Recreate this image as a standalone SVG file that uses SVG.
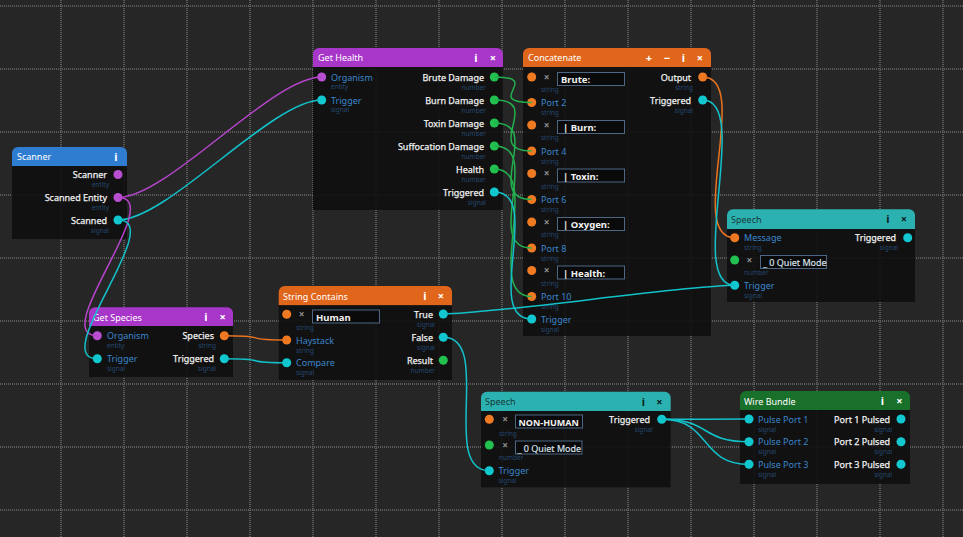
<svg xmlns="http://www.w3.org/2000/svg" width="963" height="537" viewBox="0 0 963 537">
<defs>
<style>
text{font-family:"Noto Sans","Open Sans","DejaVu Sans",sans-serif}
.grid line{stroke:#5a5a5a;stroke-width:2;stroke-dasharray:1 1}
.body{fill:#101010;fill-opacity:0.9}
.ttl{font-size:9px;fill:#ffffff}
.ttl.dk{fill:#173838}
.ic{font-size:11px;font-weight:bold;fill:#ffffff;text-anchor:middle}
.ic.dk{fill:#0c2222}
.out{font-size:9px;fill:#f0f0f0;stroke:#f0f0f0;stroke-width:0.25;text-anchor:end}
.in{font-size:9px;fill:#3a86cc}
.sub{font-size:6.5px;fill:#25476f}
.subr{font-size:6.5px;fill:#25476f;text-anchor:end}
.fld{fill:#0a0a0a;stroke:#4d6784;stroke-width:1}
.ft{font-size:9.5px;font-weight:bold;fill:#f2f2f2}
.ft.s{font-size:9px}
.fq{font-size:9px;fill:#dde6f0;stroke:#dde6f0;stroke-width:0.15}
.x{font-size:10px;font-weight:bold;fill:#8e8e8e;text-anchor:middle}
.pp{fill:#b84fd0}.pc{fill:#12c8d0}.pg{fill:#22c04f}.po{fill:#f07a22}
.w{fill:none;stroke-width:1.5}
.wp{stroke:#b645cc}.wc{stroke:#12c2cb}.wg{stroke:#22b04e}.wo{stroke:#e8731f}
</style>
</defs>
<rect width="963" height="537" fill="#262626"/>
<g class="grid">
<line x1="61" y1="0" x2="61" y2="537"/><line x1="124" y1="0" x2="124" y2="537"/><line x1="187" y1="0" x2="187" y2="537"/><line x1="250" y1="0" x2="250" y2="537"/><line x1="313" y1="0" x2="313" y2="537"/><line x1="376" y1="0" x2="376" y2="537"/><line x1="439" y1="0" x2="439" y2="537"/><line x1="502" y1="0" x2="502" y2="537"/><line x1="565" y1="0" x2="565" y2="537"/><line x1="628" y1="0" x2="628" y2="537"/><line x1="691" y1="0" x2="691" y2="537"/><line x1="754" y1="0" x2="754" y2="537"/><line x1="817" y1="0" x2="817" y2="537"/><line x1="880" y1="0" x2="880" y2="537"/><line x1="943" y1="0" x2="943" y2="537"/>
<line x1="0" y1="6" x2="963" y2="6"/><line x1="0" y1="69" x2="963" y2="69"/><line x1="0" y1="132" x2="963" y2="132"/><line x1="0" y1="195" x2="963" y2="195"/><line x1="0" y1="258" x2="963" y2="258"/><line x1="0" y1="321" x2="963" y2="321"/><line x1="0" y1="384" x2="963" y2="384"/><line x1="0" y1="447" x2="963" y2="447"/><line x1="0" y1="510" x2="963" y2="510"/>
</g>

<g id="node-scanner">
<path d="M12 166V153a6 6 0 0 1 6-6H121a6 6 0 0 1 6 6V166Z" fill="#2f7dd0"/>
<rect class="body" x="12" y="166" width="115" height="73"/>
<text class="ttl" x="17" y="160">Scanner</text>
<text class="ic" x="116" y="160.5">i</text>
<circle class="pp" cx="118" cy="174.5" r="4.5"/><text class="out" x="107" y="178">Scanner</text><text class="subr" x="109" y="186.5">entity</text>
<circle class="pp" cx="118" cy="197.5" r="4.5"/><text class="out" x="107" y="201">Scanned Entity</text><text class="subr" x="109" y="209.5">entity</text>
<circle class="pc" cx="118" cy="220" r="4.5"/><text class="out" x="107" y="223.5">Scanned</text><text class="subr" x="109" y="232.5">signal</text>
</g>

<g id="node-get-health">
<path d="M313 67V54a6 6 0 0 1 6-6H497a6 6 0 0 1 6 6V67Z" fill="#a736c9"/>
<rect class="body" x="313" y="67" width="190" height="143"/>
<text class="ttl" x="318" y="61">Get Health</text>
<text class="ic" x="476" y="61.5">i</text><text class="ic" x="493" y="61.5">×</text>
<circle class="pp" cx="321.7" cy="77" r="4.5"/><text class="in" x="331" y="80.5">Organism</text><text class="sub" x="331" y="89">entity</text>
<circle class="pc" cx="321.7" cy="100" r="4.5"/><text class="in" x="331" y="103.5">Trigger</text><text class="sub" x="331" y="112">signal</text>
<circle class="pg" cx="494.3" cy="77" r="4.5"/><text class="out" x="484" y="80.5">Brute Damage</text><text class="subr" x="486" y="89.5">number</text>
<circle class="pg" cx="494.3" cy="100" r="4.5"/><text class="out" x="484" y="103.5">Burn Damage</text><text class="subr" x="486" y="112.5">number</text>
<circle class="pg" cx="494.3" cy="123" r="4.5"/><text class="out" x="484" y="126.5">Toxin Damage</text><text class="subr" x="486" y="135.5">number</text>
<circle class="pg" cx="494.3" cy="146" r="4.5"/><text class="out" x="484" y="149.5">Suffocation Damage</text><text class="subr" x="486" y="158.5">number</text>
<circle class="pg" cx="494.3" cy="169" r="4.5"/><text class="out" x="484" y="172.5">Health</text><text class="subr" x="486" y="181.5">number</text>
<circle class="pc" cx="494.3" cy="192" r="4.5"/><text class="out" x="484" y="195.5">Triggered</text><text class="subr" x="486" y="204.5">signal</text>
</g>

<g id="node-concatenate">
<path d="M523 67V54a6 6 0 0 1 6-6H705a6 6 0 0 1 6 6V67Z" fill="#e0661c"/>
<rect class="body" x="523" y="67" width="188" height="269"/>
<text class="ttl" x="528" y="61">Concatenate</text>
<text class="ic" x="649" y="61.5">+</text><text class="ic" x="667" y="61.5">−</text><text class="ic" x="683.5" y="61.5">i</text><text class="ic" x="700" y="61.5">×</text>
<circle class="po" cx="531.7" cy="77" r="4.5"/><text class="x" x="546.7" y="80.5">×</text><rect class="fld" x="557.5" y="72.5" width="67" height="13"/><text class="ft" x="561" y="83">Brute:</text><text class="sub" x="541" y="92">string</text>
<circle class="po" cx="531.7" cy="102.5" r="4.5"/><text class="in" x="541" y="106">Port 2</text><text class="sub" x="541" y="115">string</text>
<circle class="po" cx="531.7" cy="125" r="4.5"/><text class="x" x="546.7" y="128.5">×</text><rect class="fld" x="557.5" y="120.5" width="67" height="13"/><text class="ft" x="563" y="131">| Burn:</text><text class="sub" x="541" y="140">string</text>
<circle class="po" cx="531.7" cy="151" r="4.5"/><text class="in" x="541" y="154.5">Port 4</text><text class="sub" x="541" y="163.5">string</text>
<circle class="po" cx="531.7" cy="173.5" r="4.5"/><text class="x" x="546.7" y="177">×</text><rect class="fld" x="557.5" y="169" width="67" height="13"/><text class="ft" x="563" y="179.5">| Toxin:</text><text class="sub" x="541" y="188.5">string</text>
<circle class="po" cx="531.7" cy="199.5" r="4.5"/><text class="in" x="541" y="203">Port 6</text><text class="sub" x="541" y="212">string</text>
<circle class="po" cx="531.7" cy="222" r="4.5"/><text class="x" x="546.7" y="225.5">×</text><rect class="fld" x="557.5" y="217.5" width="67" height="13"/><text class="ft" x="563" y="228">| Oxygen:</text><text class="sub" x="541" y="237">string</text>
<circle class="po" cx="531.7" cy="248" r="4.5"/><text class="in" x="541" y="251.5">Port 8</text><text class="sub" x="541" y="260.5">string</text>
<circle class="po" cx="531.7" cy="270.5" r="4.5"/><text class="x" x="546.7" y="274">×</text><rect class="fld" x="557.5" y="266" width="67" height="13"/><text class="ft" x="563" y="276.5">| Health:</text><text class="sub" x="541" y="285.5">string</text>
<circle class="po" cx="531.7" cy="296.5" r="4.5"/><text class="in" x="541" y="300">Port 10</text><text class="sub" x="541" y="309">string</text>
<circle class="pc" cx="531.7" cy="319" r="4.5"/><text class="in" x="541" y="322.5">Trigger</text><text class="sub" x="541" y="331.5">signal</text>
<circle class="po" cx="702.7" cy="77" r="4.5"/><text class="out" x="691" y="80.5">Output</text><text class="subr" x="693" y="89.5">string</text>
<circle class="pc" cx="702.7" cy="100" r="4.5"/><text class="out" x="691" y="103.5">Triggered</text><text class="subr" x="693" y="112.5">signal</text>
</g>

<g id="node-speech-1">
<path d="M727 229V215.3a6 6 0 0 1 6-6H909a6 6 0 0 1 6 6V229Z" fill="#2bb2b0"/>
<rect class="body" x="727" y="229" width="188" height="73"/>
<text class="ttl dk" x="731" y="222.5">Speech</text>
<text class="ic dk" x="888" y="223">i</text><text class="ic dk" x="904" y="223">×</text>
<circle class="po" cx="734.7" cy="237.7" r="4.5"/><text class="in" x="744" y="241.2">Message</text><text class="sub" x="744" y="250">string</text>
<circle class="pg" cx="734.7" cy="260" r="4.5"/><text class="x" x="749.3" y="263.5">×</text><rect class="fld" x="760.5" y="255.5" width="66" height="13"/><text class="fq" x="763" y="265.5">_ 0 Quiet Mode</text><text class="sub" x="744" y="275">number</text>
<circle class="pc" cx="734.7" cy="285.3" r="4.5"/><text class="in" x="744" y="288.8">Trigger</text><text class="sub" x="744" y="297.5">signal</text>
<circle class="pc" cx="907.7" cy="237.7" r="4.5"/><text class="out" x="896" y="241.2">Triggered</text><text class="subr" x="898" y="250">signal</text>
</g>

<g id="node-get-species">
<path d="M89 326V313.3a6 6 0 0 1 6-6H227a6 6 0 0 1 6 6V326Z" fill="#a736c9"/>
<rect class="body" x="89" y="326" width="144" height="51"/>
<text class="ttl" x="93" y="320.5">Get Species</text>
<text class="ic" x="206" y="321">i</text><text class="ic" x="222.7" y="321">×</text>
<circle class="pp" cx="97.3" cy="335.7" r="4.5"/><text class="in" x="107" y="339.2">Organism</text><text class="sub" x="107" y="348">entity</text>
<circle class="pc" cx="97.3" cy="358.7" r="4.5"/><text class="in" x="107" y="362.2">Trigger</text><text class="sub" x="107" y="371">signal</text>
<circle class="po" cx="224.3" cy="335.7" r="4.5"/><text class="out" x="214" y="339.2">Species</text><text class="subr" x="216" y="348">string</text>
<circle class="pc" cx="224.3" cy="358.7" r="4.5"/><text class="out" x="214" y="362.2">Triggered</text><text class="subr" x="216" y="371">signal</text>
</g>

<g id="node-string-contains">
<path d="M278.7 305.3V292a6 6 0 0 1 6-6H446a6 6 0 0 1 6 6V305.3Z" fill="#e0661c"/>
<rect class="body" x="278.7" y="305.3" width="173.3" height="74.7"/>
<text class="ttl" x="283" y="299.5">String Contains</text>
<text class="ic" x="425" y="300">i</text><text class="ic" x="441" y="300">×</text>
<circle class="po" cx="286.7" cy="314.3" r="4.5"/><text class="x" x="301.7" y="317.8">×</text><rect class="fld" x="312.5" y="310" width="67" height="13"/><text class="ft" x="316" y="320.5">Human</text><text class="sub" x="296" y="329.5">string</text>
<circle class="po" cx="286.7" cy="340" r="4.5"/><text class="in" x="296" y="343.5">Haystack</text><text class="sub" x="296" y="352.5">string</text>
<circle class="pc" cx="286.7" cy="362.7" r="4.5"/><text class="in" x="296" y="366.2">Compare</text><text class="sub" x="296" y="375">signal</text>
<circle class="pc" cx="443.3" cy="314" r="4.5"/><text class="out" x="433" y="317.5">True</text><text class="subr" x="435" y="326.5">signal</text>
<circle class="pc" cx="443.3" cy="337.3" r="4.5"/><text class="out" x="433" y="340.8">False</text><text class="subr" x="435" y="349.5">signal</text>
<circle class="pg" cx="443.3" cy="360.3" r="4.5"/><text class="out" x="433" y="363.8">Result</text><text class="subr" x="435" y="372.5">number</text>
</g>

<g id="node-speech-2">
<path d="M481 411V397.7a6 6 0 0 1 6-6H664.7a6 6 0 0 1 6 6V411Z" fill="#2bb2b0"/>
<rect class="body" x="481" y="411" width="189.7" height="76.3"/>
<text class="ttl dk" x="485" y="405">Speech</text>
<text class="ic dk" x="643.3" y="405.5">i</text><text class="ic dk" x="659.3" y="405.5">×</text>
<circle class="po" cx="489.3" cy="419.3" r="4.5"/><text class="x" x="505" y="422.8">×</text><rect class="fld" x="515.5" y="415" width="67" height="13"/><text class="ft s" x="518.5" y="425.5">NON-HUMAN</text><text class="sub" x="499" y="435.5">string</text>
<circle class="pg" cx="489.3" cy="445" r="4.5"/><text class="x" x="505" y="448.5">×</text><rect class="fld" x="515.5" y="441" width="66.5" height="13"/><text class="fq" x="517.5" y="451.5">_ 0 Quiet Mode</text><text class="sub" x="499" y="460">number</text>
<circle class="pc" cx="489.3" cy="470.7" r="4.5"/><text class="in" x="498.5" y="474.2">Trigger</text><text class="sub" x="498.5" y="483">signal</text>
<circle class="pc" cx="661.7" cy="419.3" r="4.5"/><text class="out" x="650" y="422.8">Triggered</text><text class="subr" x="652.7" y="431.5">signal</text>
</g>

<g id="node-wire-bundle">
<path d="M740 410V397a6 6 0 0 1 6-6H904a6 6 0 0 1 6 6V410Z" fill="#19702a"/>
<rect class="body" x="740" y="410" width="170" height="74"/>
<text class="ttl" x="744" y="404.5">Wire Bundle</text>
<text class="ic" x="882.3" y="405">i</text><text class="ic" x="899.3" y="405">×</text>
<circle class="pc" cx="749" cy="419" r="4.5"/><text class="in" x="758" y="422.5">Pulse Port 1</text><text class="sub" x="758" y="431.5">signal</text>
<circle class="pc" cx="749" cy="441.7" r="4.5"/><text class="in" x="758" y="445.2">Pulse Port 2</text><text class="sub" x="758" y="454.2">signal</text>
<circle class="pc" cx="749" cy="464.3" r="4.5"/><text class="in" x="758" y="467.8">Pulse Port 3</text><text class="sub" x="758" y="476.8">signal</text>
<circle class="pc" cx="901" cy="419" r="4.5"/><text class="out" x="890" y="422.5">Port 1 Pulsed</text><text class="subr" x="892.3" y="431.5">signal</text>
<circle class="pc" cx="901" cy="441.7" r="4.5"/><text class="out" x="890" y="445.2">Port 2 Pulsed</text><text class="subr" x="892.3" y="454.2">signal</text>
<circle class="pc" cx="901" cy="464.3" r="4.5"/><text class="out" x="890" y="467.8">Port 3 Pulsed</text><text class="subr" x="892.3" y="476.8">signal</text>
</g>

<g id="connectors">
<path class="w wp" d="M118 197.5C168 197.5 271.7 77 321.7 77"/>
<path class="w wc" d="M118 220C168 220 271.7 100 321.7 100"/>
<path class="w wp" d="M118 197.5C168 197.5 47.3 335.7 97.3 335.7"/>
<path class="w wc" d="M118 220C168 220 47.3 358.7 97.3 358.7"/>
<path class="w wo" d="M224.3 335.7C274.3 335.7 236.7 340 286.7 340"/>
<path class="w wc" d="M224.3 358.7C274.3 358.7 236.7 362.7 286.7 362.7"/>
<path class="w wc" d="M443.3 314C493.3 314 684.7 285.3 734.7 285.3"/>
<path class="w wc" d="M443.3 337.3C493.3 337.3 439.3 470.7 489.3 470.7"/>
<path class="w wg" d="M494.3 77C544.3 77 481.7 102.5 531.7 102.5"/>
<path class="w wg" d="M494.3 100C544.3 100 481.7 151 531.7 151"/>
<path class="w wg" d="M494.3 123C544.3 123 481.7 199.5 531.7 199.5"/>
<path class="w wg" d="M494.3 146C544.3 146 481.7 248 531.7 248"/>
<path class="w wg" d="M494.3 169C544.3 169 481.7 296.5 531.7 296.5"/>
<path class="w wc" d="M494.3 192C544.3 192 481.7 319 531.7 319"/>
<path class="w wo" d="M702.7 77C752.7 77 684.7 237.7 734.7 237.7"/>
<path class="w wc" d="M702.7 100C752.7 100 684.7 285.3 734.7 285.3"/>
<path class="w wc" d="M661.7 419.3C711.7 419.3 699 419 749 419"/>
<path class="w wc" d="M661.7 419.3C711.7 419.3 699 441.7 749 441.7"/>
<path class="w wc" d="M661.7 419.3C711.7 419.3 699 464.3 749 464.3"/>
</g>
</svg>
